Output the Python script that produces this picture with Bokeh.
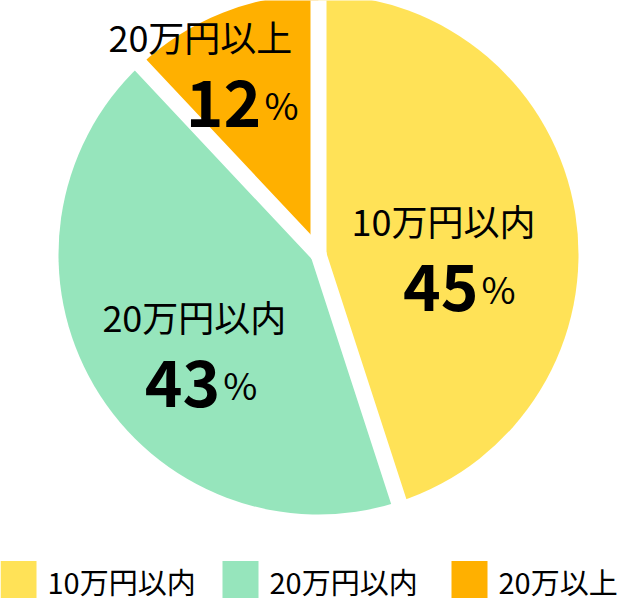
import numpy as np
from bokeh.plotting import figure
from bokeh.models import ColumnDataSource
from bokeh.core.properties import value
from bokeh.embed import file_html
from bokeh.resources import INLINE

# ---- data ----
categories = ["10万円以内", "20万円以内", "20万円以上"]
legend_labels = ["10万円以内", "20万円以内", "20万以上"]
shares = [45, 43, 12]
colors = ["#FFE257", "#96E5BC", "#FFB000"]

# ---- layout / style constants ----
W, H = 620, 600
CX, CY = 318, 346
R = 260
GAP = 16
FONT = value("Noto Sans CJK JP")
label_r = [131, 155, 209]
label_nudge_deg = [-8.6, 7.4, 6.4]
label_dx = [-6, -2, -20]
num_dx = [7, 2, 19]
legend_x = [0, 222, 451]

p = figure(width=W, height=H, x_range=(0, W), y_range=(0, H),
           output_backend="svg", toolbar_location=None,
           x_axis_location=None, y_axis_location=None, min_border=0)
p.grid.visible = False
p.outline_line_color = None
p.background_fill_color = "white"
p.border_fill_color = "white"

frac = np.array(shares, dtype=float) / sum(shares)
cum = np.concatenate([[0.0], np.cumsum(frac)])
start = np.pi / 2 - 2 * np.pi * cum[:-1]
end = np.pi / 2 - 2 * np.pi * cum[1:]

src = ColumnDataSource(dict(x=[CX] * 3, y=[CY] * 3, start=start, end=end, color=colors))
p.wedge(x="x", y="y", radius=R, start_angle="start", end_angle="end",
        direction="clock", fill_color="color", line_color=None, source=src)

# white gaps between slices
L = R + 20
p.segment(x0=[CX] * 3, y0=[CY] * 3,
          x1=list(CX + L * np.cos(start)), y1=list(CY + L * np.sin(start)),
          line_color="white", line_width=GAP, line_cap="round")

# labels
mid = (start + end) / 2 + np.radians(label_nudge_deg)
ax = CX + np.array(label_r) * np.cos(mid)
ay = CY + np.array(label_r) * np.sin(mid)

p.text(x=list(ax + np.array(label_dx)), y=list(ay + 34), text=categories,
       text_font=FONT, text_font_size="36px", text_color="#000000",
       text_align="center", text_baseline="alphabetic")

ncx = ax + np.array(num_dx)
p.text(x=list(ncx + 22), y=list(ay - 34), text=[str(s) for s in shares],
       text_font=FONT, text_font_size="64px", text_font_style="bold",
       text_color="#000000", text_align="right", text_baseline="alphabetic")
p.text(x=list(ncx + 25), y=list(ay - 34), text=["%"] * 3,
       text_font=FONT, text_font_size="37px", text_color="#000000",
       text_align="left", text_baseline="alphabetic")

# legend
lx = np.array(legend_x, dtype=float)
p.rect(x=list(lx + 18), y=[21] * 3, width=36, height=37,
       fill_color=colors, line_color=None)
p.text(x=list(lx + 47), y=[20] * 3, text=legend_labels,
       text_font=FONT, text_font_size="29px", text_color="#000000",
       text_align="left", text_baseline="middle")

open("out.html", "w").write(file_html(p, INLINE))
